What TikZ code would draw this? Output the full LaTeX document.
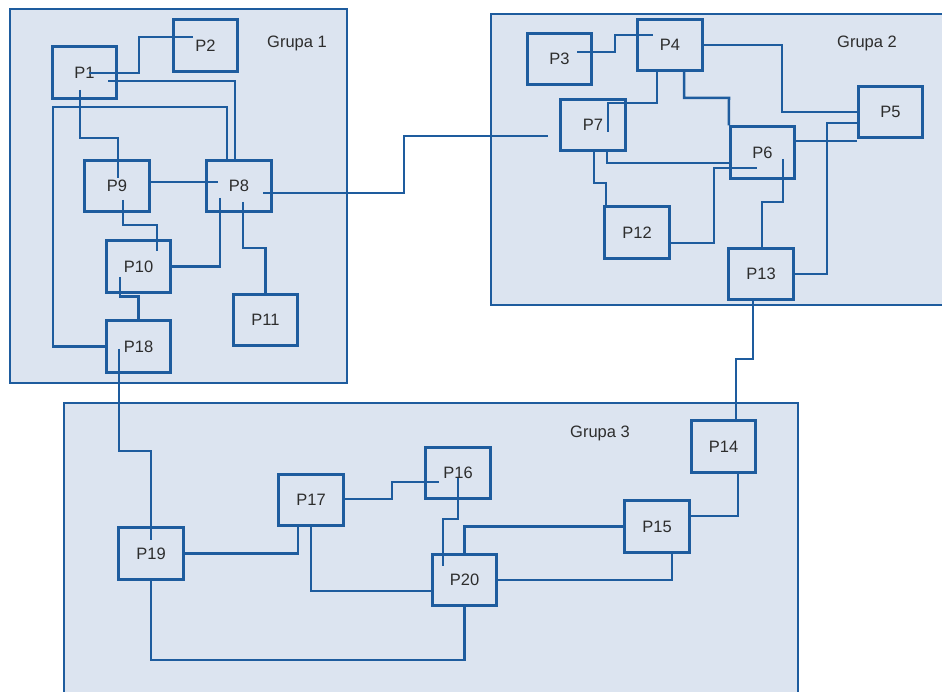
\documentclass[tikz,border=0pt]{standalone}
\usepackage{fontspec}
\setmainfont{Liberation Sans}
\definecolor{ln}{RGB}{30,92,158}
\definecolor{gf}{RGB}{220,228,240}
\definecolor{tx}{RGB}{45,45,45}
\tikzset{
  grp/.style={draw=ln, fill=gf, line width=2.3pt},
  pbox/.style={draw=ln, line width=2.8pt, minimum width=64.5pt, minimum height=51.5pt, inner sep=0pt, text=tx, font=\fontsize{16.5}{18}\selectfont},
  conn/.style={draw=ln, line width=2.5pt},
  glabel/.style={text=tx, inner sep=0pt, font=\fontsize{16.5}{18}\selectfont}
}
\begin{document}
\begin{tikzpicture}[x=1pt,y=-1pt]
\useasboundingbox (0,0) rectangle (942,692);
\clip (0,0) rectangle (942,692);
% groups
\path[grp] (10,9) rectangle (347,383);
\path[grp] (491,14) rectangle (955,305);
\path[grp] (64,403) rectangle (798,710);
\node[glabel] (g1) at (297,43) {Grupa 1};
\node[glabel] (g2) at (867,43) {Grupa 2};
\node[glabel] (g3) at (600,433) {Grupa 3};
% nodes
\node[pbox] (P1) at (84.5,72.5) {P1};
\node[pbox] (P2) at (205.5,45.5) {P2};
\node[pbox] (P9) at (117,186) {P9};
\node[pbox] (P8) at (239,186) {P8};
\node[pbox] (P10) at (138.5,266.5) {P10};
\node[pbox] (P11) at (265.5,320) {P11};
\node[pbox] (P18) at (138.5,346.5) {P18};
\node[pbox] (P3) at (559.5,59) {P3};
\node[pbox] (P4) at (670,45) {P4};
\node[pbox] (P5) at (890.5,112) {P5};
\node[pbox] (P7) at (593,125) {P7};
\node[pbox] (P6) at (762.5,152.5) {P6};
\node[pbox] (P12) at (637,232.5) {P12};
\node[pbox] (P13) at (761,274) {P13};
\node[pbox] (P14) at (723.5,446.5) {P14};
\node[pbox] (P15) at (657,526.5) {P15};
\node[pbox] (P16) at (458,473) {P16};
\node[pbox] (P20) at (464.5,580) {P20};
\node[pbox] (P17) at (311,500) {P17};
\node[pbox] (P19) at (151,553.5) {P19};
% connectors group 1
\draw[conn] ([shift={(4.5,0.5)}]P1.center) -| (139,37) -- ([shift={(-12.5,-8.5)}]P2.center);
\draw[conn] ([shift={(23.5,8.5)}]P1.center) -| ([shift={(-4,0)}]P8.north);
\draw[conn] ([shift={(-12,0)}]P8.north) |- (53,107) |- (P18.west);
\draw[conn] ([shift={(-4.5,17.5)}]P1.center) |- (118,138) -- ([shift={(1,-8)}]P9.center);
\draw[conn] ([shift={(0,-4)}]P9.east) -- ([shift={(-21,-4)}]P8.center);
\draw[conn] ([shift={(6,14)}]P9.center) |- (157,225) -- ([shift={(18.5,-15.5)}]P10.center);
\draw[conn] ([shift={(-19,12)}]P8.center) |- (P10.east);
\draw[conn] ([shift={(4,16)}]P8.center) -- (243,248) -| (P11.north);
\draw[conn] ([shift={(-18.5,10.5)}]P10.center) |- ([shift={(0,-23)}]P18.north) -- (P18.north);
\draw[conn] ([shift={(-19.5,2.5)}]P18.center) |- (151,451) -- ([shift={(0,-13.5)}]P19.center);
\draw[conn] ([shift={(24,7)}]P8.center) -| (404,136) -- ([shift={(-45,11)}]P7.center);
% connectors group 2
\draw[conn] ([shift={(17.5,-7)}]P3.center) -| (615,35) -- ([shift={(-17,-10)}]P4.center);
\draw[conn] (P4.east) -| (782,112) -- (P5.west);
\draw[conn] ([shift={(-13,0)}]P4.south) |- (608,103) -- ([shift={(15,7)}]P7.center);
\draw[conn] ([shift={(14,0)}]P4.south) |- (729,98) -- (P6.north west);
\draw[conn] ([shift={(14,0)}]P7.south) |- ([shift={(0,10.5)}]P6.west);
\draw[conn] ([shift={(1,0)}]P7.south) |- (606,183) -- ([shift={(-31,0)}]P12.north);
\draw[conn] ([shift={(0,10.5)}]P12.east) -| (714,168) -- ([shift={(-5.5,15.5)}]P6.center);
\draw[conn] ([shift={(20.5,6.5)}]P6.center) |- (762,202) -- ([shift={(1,0)}]P13.north);
\draw[conn] ([shift={(0,-11.5)}]P6.east) -- ([shift={(0,29)}]P5.west);
\draw[conn] (P13.east) -| (827,123) -- ([shift={(0,11)}]P5.west);
\draw[conn] ([shift={(-8,0)}]P13.south) |- (736,359) -- ([shift={(12.5,0)}]P14.north);
% connectors group 3
\draw[conn] ([shift={(14.5,0)}]P14.south) |- ([shift={(0,-10.5)}]P15.east);
\draw[conn] (P15.west) -| (P20.north);
\draw[conn] ([shift={(15,0)}]P15.south) |- (P20.east);
\draw[conn] ([shift={(0,5)}]P16.center) |- (443,519) -- ([shift={(-21.5,-14)}]P20.center);
\draw[conn] ([shift={(0,-1)}]P17.east) -| (392,482) -- ([shift={(-19,9)}]P16.center);
\draw[conn] (P19.east) -| ([shift={(-13,0)}]P17.south);
\draw[conn] (P17.south) |- ([shift={(0,11)}]P20.west);
\draw[conn] (P19.south) -- (151,660) -| (P20.south);
\end{tikzpicture}
\end{document}
